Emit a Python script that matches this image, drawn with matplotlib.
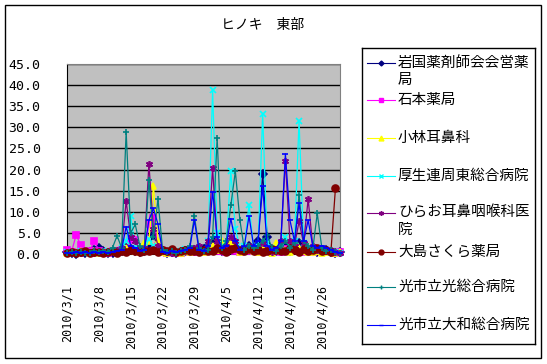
import numpy as np
import pandas as pd
import matplotlib
matplotlib.use('Agg')
import matplotlib.pyplot as plt
from matplotlib.patches import Rectangle

plt.rcParams['font.family'] = ['Noto Sans CJK JP', 'DejaVu Sans']

nan = np.nan
dates = pd.date_range('2010-03-01', '2010-04-30', freq='D')
tick_dates = pd.date_range('2010-03-01', '2010-04-26', freq='7D')
tick_labels = ['2010/3/1', '2010/3/8', '2010/3/15', '2010/3/22', '2010/3/29',
               '2010/4/5', '2010/4/12', '2010/4/19', '2010/4/26']

names = ['岩国薬剤師会会営薬局', '石本薬局', '小林耳鼻科', '厚生連周東総合病院',
         'ひらお耳鼻咽喉科医院', '大島さくら薬局', '光市立光総合病院', '光市立大和総合病院']
legend_text = ['岩国薬剤師会会営薬\n局', '石本薬局', '小林耳鼻科', '厚生連周東総合病院',
               'ひらお耳鼻咽喉科医\n院', '大島さくら薬局', '光市立光総合病院', '光市立大和総合病院']

iwakuni = [0.5, 0.3, 0.0, 0.4, 0.2, 0.5, 1.0,
           1.5, 0.6, 0.3, 0.2, 0.5, 0.8, 1.5,
           1.2, 0.8, 0.5, 0.6, 2.0, 4.5, 1.5,
           0.8, 0.3, 0.5, 0.2, 0.4, 0.6, 0.8,
           1.0, 0.8, 1.2, 2.0, 3.0, 1.5, 0.8,
           1.2, 2.5, 1.0, 0.6, 1.0, 2.0, 1.5,
           3.0, 19.0, 4.0, 1.2, 0.8, 1.0, 2.0,
           0.8, 1.5, 2.5, 1.0, 0.6, 0.8, 0.5,
           0.6, 1.0, 0.5, 0.3, 0.5]
ishimoto = [1.0, 0.5, 4.5, 2.2, 0.5, 0.8, 3.1,
            0.8, 0.5, 0.3, 0.6, 0.5, 1.0, 0.8,
            3.5, 3.2, 1.0, 0.8, 7.2, 8.5, 2.0,
            0.5, 0.3, 0.4, 0.2, 0.3, 0.6, 0.5,
            0.4, 0.8, 0.5, 1.0, 1.5, 0.8, 0.6,
            0.5, 1.2, 0.8, 0.5, 1.0, 0.6, 0.8,
            0.5, 1.0, 0.6, 0.4, 0.8, 0.5, 1.2,
            0.6, 1.5, 1.0, 0.5, 0.8, 0.4, 0.6,
            0.5, 0.8, 0.4, 0.3, 0.5]
kobayashi = [0.3, 0.5, 0.2, 0.8, 0.4, 0.2, 0.6,
             0.3, 0.5, 0.4, 1.0, 0.5, 0.8, 1.5,
             1.0, 0.8, 0.5, 2.5, 3.0, 16.0, 3.0,
             0.5, 0.3, 0.8, 0.5, 0.2, 0.6, 0.4,
             0.8, 1.5, 0.5, 0.6, 2.0, 1.0, 3.0,
             1.0, 2.8, 1.5, 0.5, 2.0, 1.0, 0.8,
             0.5, 1.5, 0.8, 0.3, 2.5, 0.6, 1.0,
             0.5, 3.0, 1.5, 0.8, 0.5, 0.4, 0.6,
             0.3, 0.5, 0.8, 0.2, 0.4]
kouseiren = [0.5, 0.2, 0.3, 0.6, 0.2, 0.4, 0.3,
             0.5, 0.3, 0.6, 0.8, 1.0, 1.5, 3.0,
             9.0, 1.5, 0.8, 1.0, 3.5, 2.0, 1.0,
             0.5, 0.8, 0.3, 0.6, 0.5, 1.2, 0.8,
             1.0, 1.5, 0.8, 3.0, 38.8, 5.0, 2.0,
             2.5, 19.6, 6.0, 1.5, 2.0, 11.7, 1.5,
             2.0, 33.2, 2.5, 1.0, 1.5, 2.0, 4.0,
             2.0, 3.0, 31.6, 2.5, 1.0, 1.5, 0.8,
             1.0, 0.5, 0.8, 0.5, 0.3]
hirao = [0.2, 0.5, 0.3, 0.2, 0.6, 0.4, 0.3,
         0.5, 0.2, 0.4, 0.6, 1.0, 1.5, 12.5,
         4.0, 3.0, 1.0, 1.5, 21.3, 6.0, 2.0,
         0.8, 0.5, 0.3, 0.4, 0.8, 1.2, 0.6,
         1.5, 2.0, 1.0, 3.0, 20.3, 3.0, 1.0,
         2.0, 4.0, 3.0, 1.0, 1.5, 2.0, 1.0,
         1.5, 2.5, 1.0, 0.5, 1.2, 3.0, 22.0,
         3.0, 2.0, 7.7, 2.5, 13.0, 2.0, 1.0,
         1.5, 0.8, 1.0, 0.5, 0.3]
ooshima = [0.3, 0.5, 0.2, 0.4, 0.6, 0.3, 0.5,
           0.4, 0.2, 0.5, 0.8, 0.3, 0.6, 0.5,
           1.0, 0.8, 0.5, 0.6, 0.8, 1.0, 0.5,
           1.0, 0.8, 1.2, 0.5, 0.8, 1.0, 0.6,
           0.8, 0.5, 1.0, 0.6, 0.8, 1.5, 1.0,
           0.5, 1.2, 1.5, 1.0, 0.6, 1.2, 0.8,
           1.0, 0.5, 0.8, 1.2, 1.0, 0.6, 0.8,
           1.5, 1.0, 0.5, 1.2, 0.8, 1.0, 1.5,
           0.6, 1.0, 0.5, 15.6, nan]
hikari = [0.2, 0.4, 0.3, 0.5, 0.2, 0.3, 0.6,
          0.4, 0.8, 0.5, 1.5, 4.3, 1.5, 29.0,
          5.0, 7.0, 2.0, 1.0, 17.5, 4.0, 13.0,
          1.0, 0.5, 0.8, 0.3, 0.6, 1.0, 2.0,
          9.0, 1.5, 0.8, 1.0, 4.0, 27.5, 1.5,
          3.0, 11.5, 19.6, 8.0, 1.0, 2.0, 1.5,
          2.0, 3.0, 4.5, 1.5, 0.8, 2.0, 3.0,
          1.5, 2.5, 14.0, 3.0, 2.0, 1.0, 9.6,
          1.5, 0.8, 1.0, 0.5, 0.3]
yamato = [0.3, 0.2, 0.4, 0.3, 0.5, 0.2, 0.4,
          0.3, 0.5, 0.2, 0.4, 0.8, 1.0, 6.5,
          2.0, 1.5, 0.8, 1.0, 8.0, 10.8, 7.0,
          0.5, 0.3, 0.6, 0.4, 0.8, 1.0, 1.5,
          8.0, 1.0, 0.8, 2.0, 14.8, 4.0, 1.5,
          2.0, 8.4, 3.0, 1.0, 2.0, 9.0, 2.0,
          3.0, 16.0, 2.0, 1.0, 1.5, 3.0, 23.7,
          8.0, 3.0, 12.0, 3.0, 8.0, 2.0, 1.5,
          2.0, 1.5, 1.0, 0.5, 0.3]

series = [iwakuni, ishimoto, kobayashi, kouseiren, hirao, ooshima, hikari, yamato]
colors = ['#000080', '#FF00FF', '#FFFF00', '#00FFFF', '#800080', '#800000', '#008080', '#0000FF']
markers = ['D', 's', '^', 'x', (6, 2, 0), 'o', '+', '_']
msizes = [4, 5, 5, 4, 5, 5, 5, 5]

W, H = 547, 364
fig = plt.figure(figsize=(W / 100, H / 100), dpi=100)

def fx(px):
    return px / W

def fy(py):
    return 1 - py / H

# outer frame
fig.patches.append(Rectangle((fx(5), fy(358)), fx(541) - fx(5), fy(5) - fy(358),
                             transform=fig.transFigure, fill=False, ec='black', lw=1))

ax = fig.add_axes([fx(67), fy(254), fx(340) - fx(67), fy(64) - fy(254)])
ax.set_facecolor('#C0C0C0')
for i in range(len(series)):
    ax.plot(dates, series[i], color=colors[i], lw=0.9, marker=markers[i], ms=msizes[i],
            mec=colors[i], mfc=colors[i], mew=1.2, clip_on=False, zorder=3 + i)

ax.set_ylim(0, 45)
ax.set_yticks(np.arange(0, 46, 5))
ax.set_yticklabels(['%.1f' % v for v in np.arange(0, 46, 5)],
                   family='DejaVu Sans Mono', fontsize=9.5)
ax.set_xlim(dates[0], dates[-1])
ax.set_xticks(tick_dates)
ax.set_xticklabels(tick_labels, rotation=90, family='DejaVu Sans Mono', fontsize=8.5, va='top')
ax.tick_params(axis='both', length=0)
ax.tick_params(axis='y', pad=19)
ax.tick_params(axis='x', pad=22)
ax.yaxis.grid(True, color='black', lw=1)
ax.set_axisbelow(True)
for s in ['top', 'right']:
    ax.spines[s].set_color('#808080')
for s in ['left', 'bottom']:
    ax.spines[s].set_color('black')

fig.text(fx(263), fy(25), 'ヒノキ　東部', ha='center', va='center', fontsize=10)

# legend box
lg = fig.add_axes([fx(362), fy(344), fx(535) - fx(362), fy(48) - fy(344)])
lg.set_xlim(362, 535)
lg.set_ylim(344, 48)
lg.set_xticks([])
lg.set_yticks([])
for s in lg.spines.values():
    s.set_color('black')
    s.set_linewidth(1)
entry_y = [63, 100, 138, 176, 213, 252, 287, 325]
for i in range(len(series)):
    y = entry_y[i]
    lg.plot([367, 381, 395], [y, y, y], color=colors[i], lw=0.8, marker=markers[i],
            ms=msizes[i] - 1.5, markevery=[1], mec=colors[i], mfc=colors[i], mew=1)
    lines = legend_text[i].split('\n')
    for j in range(len(lines)):
        lg.text(398, y + 17 * j, lines[j], ha='left', va='center', fontsize=10.5)

fig.savefig('out.png', dpi=100)
